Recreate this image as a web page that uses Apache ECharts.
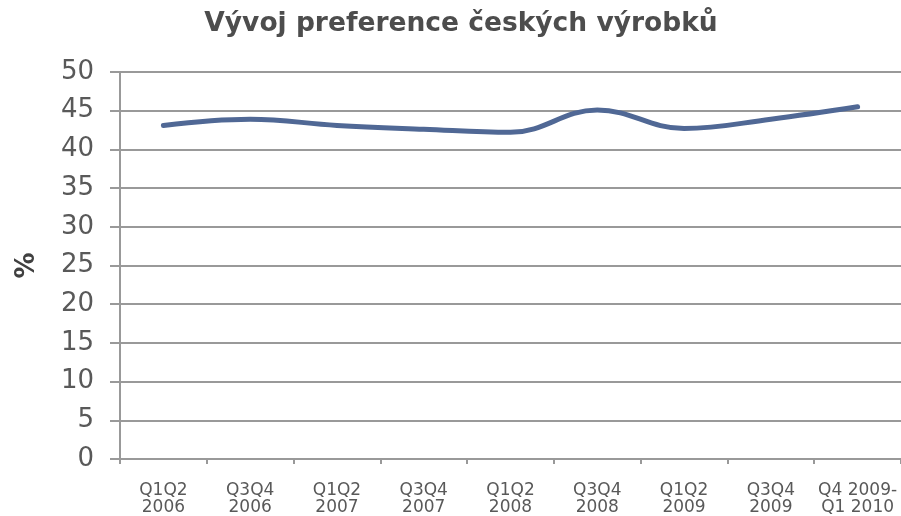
<!DOCTYPE html>
<html>
<head>
<meta charset="utf-8">
<script src="https://cdn.jsdelivr.net/npm/echarts@6/dist/echarts.min.js"></script>
<style>
  html, body { margin: 0; padding: 0; background: #fff; }
  #chart { width: 901px; height: 516px; }
</style>
</head>
<body>
<div id="chart"></div>
<script>
  // obdobi a hodnoty (v %)
  const categories = ['Q1Q2\n2006', 'Q3Q4\n2006', 'Q1Q2\n2007', 'Q3Q4\n2007', 'Q1Q2\n2008',
    'Q3Q4\n2008', 'Q1Q2\n2009', 'Q3Q4\n2009', 'Q4 2009-\nQ1 2010']
  const values = [43.1, 43.9, 43.1, 42.6, 42.2, 45.1, 42.7, 43.9, 45.5]
  const yTicks = [0, 50, 5]  // min, max, interval

  const font = 'DejaVu Sans, Verdana, sans-serif'
  let myChart = echarts.init(document.getElementById('chart'))
  let option = {
    animation: false,
    title: {
      text: 'Vývoj preference českých výrobků',
      left: 456,
      textAlign: 'center',
      top: 6,
      textStyle: { fontFamily: font, fontSize: 26.5, fontWeight: 'bold', color: '#4d4d4d' }
    },
    grid: {
      left: 120,
      right: -3,
      top: 72,
      bottom: 57
    },
    xAxis: {
      type: 'category',
      data: categories,
      boundaryGap: true,
      axisLine: { lineStyle: { color: '#999', width: 2 } },
      axisTick: { show: true, length: 5, lineStyle: { color: '#999', width: 2 } },
      axisLabel: {
        interval: 0,
        margin: 23,
        fontFamily: font,
        fontSize: 17,
        lineHeight: 17,
        color: '#595959'
      }
    },
    yAxis: {
      type: 'value',
      min: yTicks[0],
      max: yTicks[1],
      interval: yTicks[2],
      name: '%',
      nameLocation: 'middle',
      nameGap: 80,
      nameRotate: 90,
      nameTextStyle: { fontFamily: font, fontSize: 26, fontWeight: 'bold', color: '#404040' },
      axisLine: { show: true, lineStyle: { color: '#999', width: 2 } },
      axisTick: { show: true, length: 10, lineStyle: { color: '#999', width: 2 } },
      splitLine: { lineStyle: { color: '#999', width: 2 } },
      axisLabel: {
        margin: 26,
        fontFamily: font,
        fontSize: 26,
        color: '#595959'
      }
    },
    series: [
      {
        type: 'line',
        data: values,
        smooth: 0.4,
        symbol: 'none',
        lineStyle: { color: '#506895', width: 5, cap: 'round' }
      }
    ]
  }
  myChart.setOption(option)
</script>
</body>
</html>
